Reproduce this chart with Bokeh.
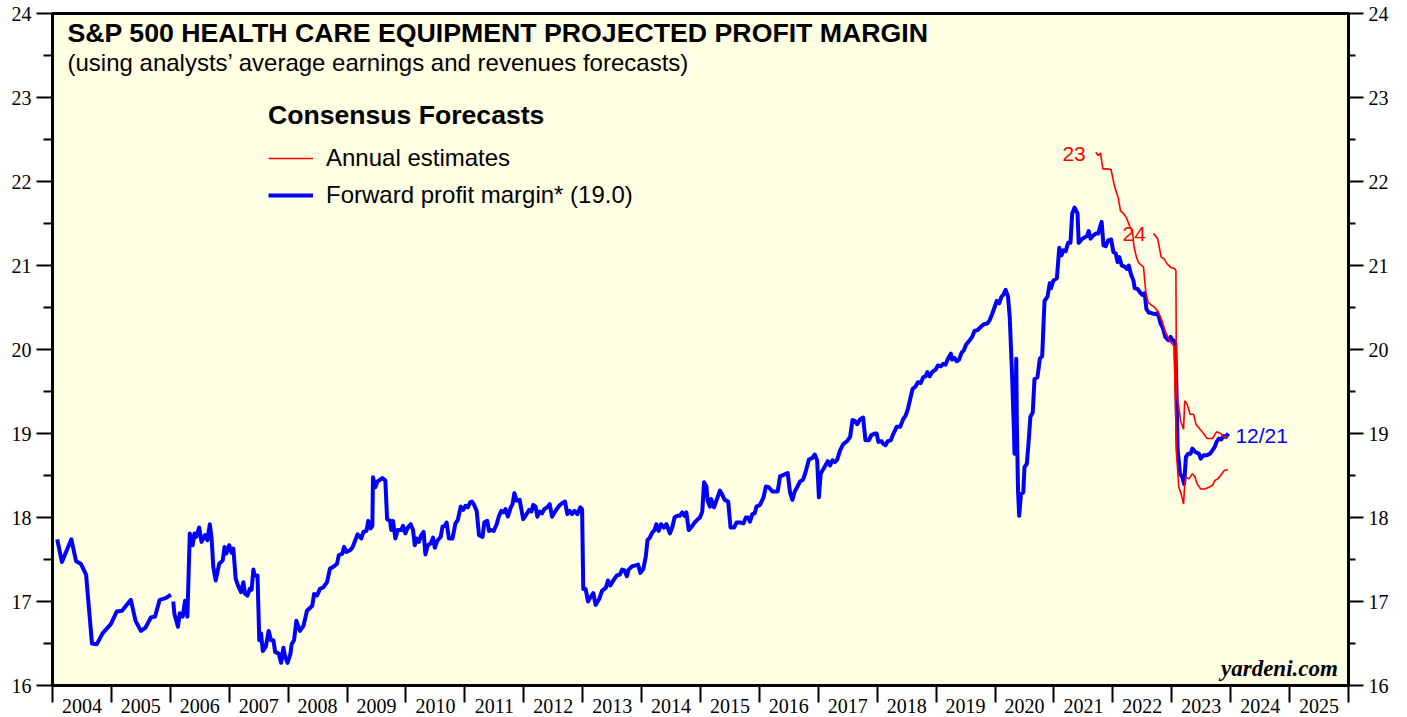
import math
from bokeh.plotting import figure
from bokeh.models import (FixedTicker, LinearAxis, Range1d, Legend, LegendItem, Label,
                          CustomJSTickFormatter)
from bokeh.embed import file_html
from bokeh.resources import INLINE

NaN = float("nan")

# ---------------- data (decimal year, percent) ----------------
fwd_year = [
    2004.08, 2004.16, 2004.32, 2004.40, 2004.48, 2004.57, 2004.67, 2004.75, 2004.85, 2004.99,
    2005.09, 2005.18, 2005.33, 2005.41, 2005.50, 2005.58, 2005.67, 2005.74, 2005.82, 2005.92,
    2006.01, 2006.03,
    2006.05, 2006.07, 2006.13, 2006.16, 2006.21, 2006.25, 2006.29, 2006.33, 2006.38, 2006.41,
    2006.44, 2006.49, 2006.53, 2006.59, 2006.63, 2006.67, 2006.70, 2006.73, 2006.77, 2006.83,
    2006.89, 2006.92, 2006.95, 2007.00, 2007.04, 2007.07, 2007.11, 2007.16, 2007.20, 2007.24,
    2007.27, 2007.31, 2007.35, 2007.38, 2007.41, 2007.43, 2007.48, 2007.51, 2007.54, 2007.57,
    2007.62, 2007.67, 2007.71, 2007.75, 2007.78, 2007.84, 2007.88, 2007.92, 2007.95, 2007.99,
    2008.04, 2008.06, 2008.10, 2008.14, 2008.20, 2008.26, 2008.32, 2008.41, 2008.44, 2008.49,
    2008.54, 2008.60, 2008.66, 2008.71, 2008.78, 2008.83, 2008.86, 2008.92, 2008.95, 2008.99,
    2009.05, 2009.09, 2009.13, 2009.18, 2009.24, 2009.28, 2009.33, 2009.36, 2009.40, 2009.43,
    2009.44, 2009.48, 2009.52, 2009.60, 2009.65, 2009.68, 2009.73, 2009.75, 2009.78, 2009.82,
    2009.86, 2009.92, 2009.95, 2009.99, 2010.03, 2010.08, 2010.12, 2010.15, 2010.18, 2010.22,
    2010.26, 2010.30, 2010.33, 2010.37, 2010.42, 2010.46, 2010.49, 2010.53, 2010.59, 2010.62,
    2010.66, 2010.69, 2010.73, 2010.79, 2010.84, 2010.88, 2010.93, 2010.97, 2011.01, 2011.05,
    2011.09, 2011.12, 2011.15, 2011.20, 2011.24, 2011.30, 2011.33, 2011.38, 2011.41, 2011.45,
    2011.49, 2011.54, 2011.58, 2011.62, 2011.66, 2011.69, 2011.73, 2011.78, 2011.81, 2011.84,
    2011.88, 2011.93, 2011.99, 2012.03, 2012.09, 2012.13, 2012.16, 2012.20, 2012.23, 2012.27,
    2012.31, 2012.35, 2012.41, 2012.44, 2012.48, 2012.54, 2012.60, 2012.65, 2012.70, 2012.74,
    2012.78, 2012.82, 2012.86, 2012.91, 2012.96, 2012.99, 2013.01, 2013.05, 2013.09, 2013.13,
    2013.18, 2013.22, 2013.28, 2013.33, 2013.39, 2013.43, 2013.47, 2013.52, 2013.58, 2013.63,
    2013.67, 2013.71, 2013.75, 2013.78, 2013.84, 2013.90, 2013.94, 2013.98, 2014.03, 2014.07,
    2014.10, 2014.14, 2014.18, 2014.22, 2014.25, 2014.29, 2014.33, 2014.38, 2014.42, 2014.44,
    2014.48, 2014.52, 2014.56, 2014.60, 2014.65, 2014.69, 2014.73, 2014.76, 2014.80, 2014.86,
    2014.90, 2014.94, 2014.99, 2015.03, 2015.06, 2015.10, 2015.12, 2015.16, 2015.18, 2015.23,
    2015.27, 2015.33, 2015.37, 2015.41, 2015.47, 2015.51, 2015.57, 2015.61, 2015.67, 2015.73,
    2015.77, 2015.81, 2015.84, 2015.88, 2015.92, 2015.95, 2016.01, 2016.07, 2016.11, 2016.16,
    2016.22, 2016.31, 2016.35, 2016.42, 2016.48, 2016.52, 2016.56, 2016.60, 2016.64, 2016.69,
    2016.74, 2016.78, 2016.84, 2016.90, 2016.94, 2016.98, 2017.01, 2017.04, 2017.08, 2017.12,
    2017.16, 2017.20, 2017.24, 2017.28, 2017.32, 2017.37, 2017.42, 2017.49, 2017.54, 2017.58,
    2017.62, 2017.66, 2017.71, 2017.76, 2017.80, 2017.86, 2017.90, 2017.96, 2017.99, 2018.02,
    2018.07, 2018.10, 2018.14, 2018.18, 2018.23, 2018.27, 2018.33, 2018.39, 2018.44, 2018.48,
    2018.52, 2018.56, 2018.60, 2018.65, 2018.69, 2018.74, 2018.78, 2018.82, 2018.85, 2018.89,
    2018.93, 2018.99, 2019.03, 2019.08, 2019.12, 2019.16, 2019.20, 2019.25, 2019.27, 2019.31,
    2019.35, 2019.39, 2019.43, 2019.47, 2019.51, 2019.57, 2019.61, 2019.65, 2019.70, 2019.76,
    2019.81, 2019.87, 2019.91, 2019.95, 2019.99, 2020.03, 2020.07, 2020.11, 2020.14, 2020.18,
    2020.22, 2020.25, 2020.29, 2020.32, 2020.33, 2020.35, 2020.36, 2020.37, 2020.39, 2020.41,
    2020.44, 2020.48, 2020.50, 2020.54, 2020.57, 2020.60, 2020.64, 2020.67, 2020.72, 2020.76,
    2020.80, 2020.84, 2020.89, 2020.93, 2020.95, 2020.99, 2021.05, 2021.09, 2021.13, 2021.16,
    2021.20, 2021.24, 2021.28, 2021.31, 2021.35, 2021.40, 2021.42, 2021.47, 2021.51, 2021.56,
    2021.59, 2021.62, 2021.67, 2021.71, 2021.75, 2021.78, 2021.81, 2021.84, 2021.88, 2021.92,
    2021.97, 2022.01, 2022.05, 2022.08, 2022.11, 2022.15, 2022.19, 2022.24, 2022.27, 2022.31,
    2022.35, 2022.37, 2022.42, 2022.46, 2022.50, 2022.54, 2022.57, 2022.61, 2022.67, 2022.71,
    2022.75, 2022.78, 2022.81, 2022.84, 2022.86, 2022.89, 2022.94, 2022.98, 2023.01, 2023.03,
    2023.06, 2023.08, 2023.10, 2023.14, 2023.18, 2023.21, 2023.24, 2023.28, 2023.32, 2023.35,
    2023.40, 2023.46, 2023.49, 2023.54, 2023.59, 2023.65, 2023.69, 2023.73, 2023.76, 2023.80,
    2023.84, 2023.88, 2023.92, 2023.96,
]
fwd_margin = [
    17.74, 17.47, 17.74, 17.48, 17.45, 17.32, 16.50, 16.49, 16.62, 16.73,
    16.88, 16.89, 17.02, 16.77, 16.65, 16.69, 16.81, 16.82, 17.02, 17.04,
    17.08, NaN,
    17.00, 16.85, 16.70, 16.86, 16.82, 17.01, 16.82, 17.81, 17.67, 17.81,
    17.77, 17.88, 17.71, 17.79, 17.73, 17.92, 17.76, 17.41, 17.25, 17.45,
    17.49, 17.65, 17.57, 17.67, 17.58, 17.63, 17.27, 17.17, 17.11, 17.23,
    17.09, 17.07, 17.15, 17.14, 17.38, 17.31, 17.31, 16.54, 16.62, 16.41,
    16.46, 16.65, 16.54, 16.54, 16.40, 16.38, 16.27, 16.45, 16.34, 16.27,
    16.38, 16.49, 16.54, 16.77, 16.65, 16.71, 16.89, 16.95, 17.09, 17.07,
    17.15, 17.17, 17.23, 17.39, 17.42, 17.45, 17.55, 17.57, 17.65, 17.59,
    17.61, 17.64, 17.71, 17.80, 17.75, 17.83, 17.84, 17.96, 17.87, 17.90,
    18.48, 18.36, 18.43, 18.47, 18.44, 17.98, 17.96, 17.85, 17.96, 17.75,
    17.85, 17.85, 17.90, 17.81, 17.88, 17.92, 17.85, 17.67, 17.75, 17.71,
    17.79, 17.83, 17.56, 17.67, 17.69, 17.76, 17.64, 17.72, 17.77, 17.89,
    17.90, 17.94, 17.75, 17.75, 17.93, 17.97, 18.13, 18.09, 18.14, 18.12,
    18.18, 18.19, 18.16, 18.08, 17.79, 17.77, 17.94, 17.96, 17.84, 17.85,
    17.84, 17.92, 18.02, 18.08, 18.06, 18.10, 18.01, 18.12, 18.16, 18.29,
    18.20, 18.21, 17.98, 18.02, 18.09, 18.07, 18.15, 18.13, 18.01, 18.07,
    18.05, 18.10, 18.13, 18.16, 18.01, 18.08, 18.14, 18.17, 18.19, 18.04,
    18.08, 18.04, 18.08, 18.04, 18.12, 18.10, 17.15, 17.15, 17.00, 17.05,
    17.10, 16.96, 17.03, 17.13, 17.16, 17.25, 17.19, 17.25, 17.31, 17.32,
    17.38, 17.37, 17.30, 17.38, 17.42, 17.43, 17.44, 17.34, 17.39, 17.53,
    17.73, 17.76, 17.82, 17.85, 17.92, 17.84, 17.92, 17.88, 17.92, 17.89,
    17.81, 17.88, 18.00, 18.02, 18.02, 18.06, 18.02, 18.06, 17.85, 17.90,
    17.94, 17.97, 18.00, 18.07, 18.42, 18.37, 18.20, 18.13, 18.22, 18.12,
    18.20, 18.32, 18.27, 18.21, 18.19, 17.88, 17.88, 17.94, 17.94, 17.93,
    18.00, 18.00, 17.95, 18.04, 18.05, 18.13, 18.15, 18.24, 18.37, 18.36,
    18.31, 18.31, 18.49, 18.51, 18.53, 18.30, 18.21, 18.31, 18.36, 18.43,
    18.45, 18.53, 18.69, 18.71, 18.75, 18.68, 18.24, 18.52, 18.57, 18.62,
    18.67, 18.62, 18.68, 18.66, 18.69, 18.80, 18.87, 18.91, 18.96, 19.16,
    19.15, 19.11, 19.17, 19.19, 18.92, 18.92, 18.98, 19.00, 19.00, 18.90,
    18.91, 18.88, 18.86, 18.91, 18.92, 18.99, 19.08, 19.08, 19.17, 19.21,
    19.29, 19.41, 19.53, 19.56, 19.61, 19.60, 19.67, 19.68, 19.73, 19.68,
    19.73, 19.76, 19.81, 19.80, 19.83, 19.82, 19.89, 19.95, 19.88, 19.90,
    19.86, 19.88, 19.96, 19.99, 20.06, 20.11, 20.15, 20.22, 20.23, 20.27,
    20.30, 20.31, 20.35, 20.42, 20.50, 20.58, 20.55, 20.63, 20.65, 20.71,
    20.63, 20.38, 19.67, 19.04, 18.76, 19.31, 19.89, 19.12, 18.32, 18.02,
    18.28, 18.30, 18.60, 18.64, 18.90, 19.20, 19.25, 19.65, 19.67, 19.89,
    19.92, 20.58, 20.63, 20.79, 20.73, 20.82, 20.85, 21.21, 21.12, 21.18,
    21.17, 21.27, 21.27, 21.62, 21.69, 21.62, 21.27, 21.31, 21.33, 21.35,
    21.41, 21.32, 21.36, 21.38, 21.38, 21.45, 21.52, 21.24, 21.23, 21.30,
    21.31, 21.16, 21.14, 21.04, 21.10, 21.00, 20.99, 20.96, 21.00, 20.89,
    20.82, 20.73, 20.72, 20.68, 20.65, 20.67, 20.48, 20.44, 20.43, 20.42,
    20.43, 20.39, 20.31, 20.27, 20.23, 20.15, 20.11, 20.15, 20.11, 20.11,
    20.07, 19.51, 18.80, 18.52, 18.48, 18.40, 18.72, 18.76, 18.76, 18.82,
    18.78, 18.76, 18.70, 18.74, 18.74, 18.76, 18.80, 18.84, 18.90, 18.94,
    18.93, 18.97, 18.96, 19.00,
]

est23_year = [
    2021.71, 2021.75, 2021.79, 2021.83, 2021.90, 2021.97, 2022.02, 2022.06, 2022.09, 2022.13,
    2022.18, 2022.23, 2022.29, 2022.33, 2022.36, 2022.40, 2022.44, 2022.52, 2022.56, 2022.60,
    2022.67, 2022.71, 2022.76, 2022.80, 2022.84, 2022.88, 2022.93, 2022.98, 2023.04, 2023.08,
    2023.12, 2023.16, 2023.20, 2023.22, 2023.24, 2023.29, 2023.35, 2023.39, 2023.43, 2023.49,
    2023.56, 2023.63, 2023.69, 2023.73, 2023.78, 2023.83, 2023.89, 2023.95,
]
est23_margin = [
    22.35, 22.31, 22.34, 22.15, 22.15, 22.14, 21.97, 21.87, 21.81, 21.65,
    21.62, 21.57, 21.46, 21.42, 21.22, 21.10, 21.03, 20.98, 20.68, 20.56,
    20.52, 20.50, 20.46, 20.40, 20.33, 20.23, 20.15, 20.09, 20.04, 18.76,
    18.36, 18.28, 18.16, 18.40, 18.48, 18.46, 18.52, 18.49, 18.40, 18.34,
    18.34, 18.36, 18.38, 18.44, 18.46, 18.50, 18.56, 18.57,
]

est24_year = [
    2022.69, 2022.76, 2022.82, 2022.87, 2022.92, 2022.98, 2023.05, 2023.07, 2023.08, 2023.12,
    2023.15, 2023.20, 2023.22, 2023.26, 2023.31, 2023.37, 2023.41, 2023.48, 2023.54, 2023.60,
    2023.69, 2023.76, 2023.83, 2023.88, 2023.95,
]
est24_margin = [
    21.38, 21.32, 21.10, 21.08, 21.02, 20.98, 20.96, 20.94, 19.47, 19.31,
    19.15, 19.05, 19.39, 19.35, 19.23, 19.23, 19.11, 19.05, 19.00, 18.94,
    18.94, 19.02, 19.00, 18.96, 18.96,
]

year_ticks = list(range(2004, 2027))
year_names = [str(y) for y in range(2004, 2026)]
y_major = list(range(16, 25))
y_minor = [v + 0.5 for v in range(16, 24)]

BLUE = "#0000FF"
RED = "#FF0000"
SANS = "Liberation Sans"
SERIF = "Liberation Serif"

p = figure(width=1398, height=717, x_range=Range1d(2004, 2026), y_range=Range1d(16, 24),
           output_backend="svg", toolbar_location=None,
           min_border_left=52, min_border_right=50, min_border_top=13, min_border_bottom=32)
p.background_fill_color = "#FFFFE4"
p.border_fill_color = "white"
p.outline_line_color = "black"
p.outline_line_width = 3
p.grid.visible = False

# x axis: year names at mid-year (invisible major ticks), boundary ticks as minor ticks
xa = p.xaxis[0]
xa.ticker = FixedTicker(ticks=[y + 0.5 for y in year_ticks[:-1]], minor_ticks=year_ticks)
xa.formatter = CustomJSTickFormatter(args=dict(names=year_names, start=year_ticks[0]),
                                     code="return names[Math.floor(tick) - start] || '';")
xa.major_tick_out = 17
xa.major_tick_in = 0
xa.major_tick_line_color = None
xa.minor_tick_out = 17
xa.minor_tick_in = 0
xa.minor_tick_line_width = 2
xa.minor_tick_line_color = "black"
xa.axis_line_width = 3
xa.major_label_standoff = -4
xa.major_label_text_font = SERIF
xa.major_label_text_font_size = "20px"
xa.major_label_text_color = "black"

def style_y(ax, major_out, minor_out, standoff):
    ax.ticker = FixedTicker(ticks=y_major, minor_ticks=y_minor)
    ax.major_tick_out = major_out
    ax.major_tick_in = 0
    ax.minor_tick_out = minor_out
    ax.minor_tick_in = 0
    ax.major_tick_line_width = 2
    ax.minor_tick_line_width = 2
    ax.axis_line_width = 3
    ax.major_label_standoff = standoff
    ax.major_label_text_font = SERIF
    ax.major_label_text_font_size = "20px"
    ax.major_label_text_color = "black"

style_y(p.yaxis[0], 16, 9, 5)
ry = LinearAxis()
style_y(ry, 15, 7, 5)
p.add_layout(ry, "right")

# series
r_fwd = p.line(fwd_year, fwd_margin, line_color=BLUE, line_width=4, line_join="round")
r23 = p.line(est23_year, est23_margin, line_color=RED, line_width=1.6)
r24 = p.line(est24_year, est24_margin, line_color=RED, line_width=1.6)

legend = Legend(
    items=[LegendItem(label="Annual estimates", renderers=[r23]),
           LegendItem(label="Forward profit margin* (19.0)", renderers=[r_fwd])],
    title="Consensus Forecasts",
    title_text_font=SANS, title_text_font_style="bold", title_text_font_size="26.6px",
    title_text_color="black", title_standoff=13,
    label_text_font=SANS, label_text_font_size="24px", label_text_color="black",
    glyph_width=45, glyph_height=24, label_height=24, spacing=9, label_standoff=13,
    padding=0, margin=0, border_line_color=None, background_fill_alpha=0,
    location=(216, 476),
)
p.add_layout(legend, "center")

def add_text(x, y, text, size, color="black", style="normal", font=SANS, align="left"):
    p.add_layout(Label(x=x, y=y, text=text, text_font=font, text_font_size=size,
                       text_font_style=style, text_color=color, text_align=align,
                       text_baseline="middle"))

add_text(2004.255, 23.77, "S&P 500 HEALTH CARE EQUIPMENT PROJECTED PROFIT MARGIN", "26.7px", style="bold")
add_text(2004.255, 23.42, "(using analysts\u2019 average earnings and revenues forecasts)", "24px")
add_text(2021.54, 22.33, "23", "21px", color=RED, align="right")
add_text(2022.56, 21.37, "24", "21px", color=RED, align="right")
add_text(2024.08, 18.98, "12/21", "21px", color=BLUE)
add_text(2025.82, 16.20, "yardeni.com", "23px", style="bold italic", font=SERIF, align="right")

open("out.html", "w").write(file_html(p, INLINE))
